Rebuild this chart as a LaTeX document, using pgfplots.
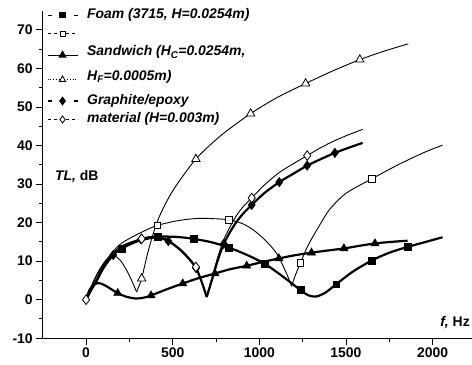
\documentclass[border=0pt]{standalone}
\usepackage{fontspec}
\setmainfont{Liberation Sans}
\usepackage{pgfplots}
\pgfplotsset{compat=1.18}
\usetikzlibrary{calc}

\begin{document}
\begin{tikzpicture}
\begin{axis}[name=ax,
 scale only axis, width=429.4bp, height=327.6bp,
 xmin=-250, xmax=2227, ymin=-10, ymax=75,
 axis x line=bottom, axis y line=left,
 axis line style={-, line width=1.2bp},
 xtick={0,500,1000,1500,2000}, ytick={-10,0,10,20,30,40,50,60,70},
 minor x tick num=1, minor y tick num=1,
 tick align=outside,
 major tick length=6.5bp, minor tick length=3.5bp,
 every tick/.style={black, line width=1bp},
 tick label style={font=\fontsize{14}{16}\selectfont\bfseries},
 /pgf/number format/assume math mode=true,
 /pgf/number format/1000 sep={},
 legend image code/.code={\draw[mark repeat=2,mark phase=2,#1] plot coordinates {(0bp,0bp) (15bp,0bp) (30bp,0bp)};},
 legend style={at={(axis description cs:0,1)}, anchor=north west, xshift=4bp, yshift=4bp,
   draw=none, fill=none, font=\fontsize{14}{16}\selectfont\bfseries\itshape,
   row sep=1.5bp, column sep=7.5bp, inner sep=0pt,
   nodes={inner sep=1.5bp, text height=10.5bp, text depth=3.5bp, anchor=west}},
 legend cell align=left,
]
% legend images
\addlegendimage{black, line width=1.3bp, dash pattern=on 4bp off 22bp, mark=square*, mark size=2.4bp, mark options={solid, fill=black}}
\addlegendentry{Foam (3715, H=0.0254m)}
\addlegendimage{black, line width=0.8bp, dash pattern=on 3.3bp off 2.7bp, mark=square*, mark size=2.4bp, mark options={solid, fill=white}}
\addlegendentry{}
\addlegendimage{black, line width=1.3bp, mark=triangle*, mark size=3.6bp, mark options={solid, fill=black}}
\addlegendentry[text depth=9.3bp]{Sandwich (H\textsubscript{C}=0.0254m,}
\addlegendimage{black, line width=0.8bp, dotted, mark=triangle*, mark size=3.6bp, mark options={solid, fill=white}}
\addlegendentry[text depth=9.3bp]{H\textsubscript{F}=0.0005m)}
\addlegendimage{black, line width=1.3bp, dash pattern=on 4bp off 22bp, mark=diamond*, mark size=3.5bp, mark options={solid, fill=black}}
\addlegendentry{Graphite/epoxy}
\addlegendimage{black, line width=0.8bp, dash pattern=on 3.3bp off 2.7bp, mark=diamond*, mark size=3.5bp, mark options={solid, fill=white}}
\addlegendentry{material (H=0.003m)}

% thin curves
\addplot[forget plot, black, line width=0.9bp, smooth, no marks] coordinates {(0,0)(30,3.2)(62,6.2)(100,9.2)(157,12.6)(210,14.8)(311,17.3)(413,19.3)(542,20.6)(650,21.1)(750,21.0)(825,20.7)(900,19.8)(965,18.1)(1030,15.6)(1100,12.0)(1157,6.8)(1186,3.5)};
\addplot[forget plot, black, line width=0.9bp, smooth, no marks] coordinates {(1186,3.5)(1210,6.6)(1237,9.5)(1280,14.0)(1350,19.5)(1407,23.5)(1500,27.6)(1650,31.4)(1800,35)(1950,38.2)(2057,40.1)};
\addplot[forget plot, black, line width=0.9bp, smooth, no marks] coordinates {(0,0)(40,4.5)(80,8)(120,10.5)(157,11.5)(196,10.3)(230,8)(254,5.9)(275,3.8)(292,2.0)};
\addplot[forget plot, black, line width=0.9bp, smooth, no marks] coordinates {(292,2.0)(305,3.5)(321,5.5)(360,12.8)(407,19.8)(455,24.6)(504,28.5)(570,32.8)(634,36.5)(700,39.5)(800,43.4)(950,48.3)(1100,52.4)(1267,56.1)(1420,59.3)(1580,62.3)(1720,64.5)(1859,66.4)};
\addplot[forget plot, black, line width=0.9bp, smooth, no marks] coordinates {(0,0)(30,2.9)(62,5.4)(100,8.8)(157,12.2)(220,14.3)(321,15.8)(400,16.5)(475,15.5)(542,13.2)(600,10.6)(634,8.5)(660,5.6)(680,3.0)(696,0.7)};
\addplot[forget plot, black, line width=0.9bp, smooth, no marks] coordinates {(696,0.7)(712,3.3)(734,6.8)(760,11.0)(795,15.6)(850,20.5)(900,23.8)(956,26.4)(1030,29.8)(1115,33.0)(1200,35.4)(1276,37.4)(1360,39.6)(1436,41.3)(1520,42.9)(1596,44.2)};
% thick curves
\addplot[forget plot, black, line width=2.2bp, smooth, no marks] coordinates {(0,0)(30,2.6)(62,5)(100,8.2)(157,11.7)(206,13.3)(300,15.2)(412,16.3)(520,16.3)(619,15.8)(725,14.9)(825,13.5)(930,11.6)(1031,9.3)(1130,6.2)(1237,2.5)(1280,1.2)(1325,0.8)(1380,1.8)(1443,4.0)(1540,7.3)(1650,10.2)(1750,12.2)(1856,13.7)(1960,15.0)(2057,16.2)};
\addplot[forget plot, black, line width=2.2bp, smooth, no marks] coordinates {(0,0)(20,2.5)(45,3.9)(75,4.3)(110,3.7)(150,2.6)(183,1.7)(230,0.8)(290,0.3)(340,0.6)(375,1.1)(460,2.6)(558,4.2)(650,5.6)(744,6.8)(830,7.9)(927,8.8)(1020,9.8)(1113,10.7)(1200,11.5)(1301,12.2)(1400,12.8)(1488,13.3)(1580,14.0)(1667,14.6)(1760,15.0)(1855,15.3)};
\addplot[forget plot, black, line width=2.2bp, smooth, no marks] coordinates {(0,0)(30,2.6)(62,5)(100,8.3)(157,11.6)(220,13.9)(317,15.7)(400,16.3)(475,15.2)(542,13.0)(600,10.3)(635,8.2)(660,5.5)(680,3.0)(696,0.7)};
\addplot[forget plot, black, line width=2.2bp, smooth, no marks] coordinates {(696,0.7)(712,3.0)(734,6.3)(760,10.2)(795,14.5)(850,19.0)(900,22.0)(956,24.6)(1030,27.7)(1115,30.5)(1200,32.8)(1276,34.8)(1360,36.6)(1436,38.1)(1520,39.5)(1596,40.7)};
% markers
\addplot[forget plot, only marks, mark=square*, mark size=3.4bp, mark options={draw=black, fill=black}] coordinates {(206,13.3)(412,16.3)(619,15.8)(825,13.5)(1031,9.3)(1237,2.5)(1443,4.0)(1650,10.2)(1856,13.7)};
\addplot[forget plot, only marks, mark=diamond*, mark size=4.8bp, mark options={draw=black, fill=black}] coordinates {(157,11.6)(317,15.7)(475,15.2)(635,8.2)(795,14.5)(956,24.6)(1115,30.5)(1276,34.8)(1436,38.1)};
\addplot[forget plot, only marks, mark=triangle*, mark size=4.8bp, mark options={draw=black, fill=black}] coordinates {(183,1.7)(375,1.1)(558,4.2)(744,6.8)(927,8.8)(1113,10.7)(1301,12.2)(1488,13.3)(1667,14.6)};
\addplot[forget plot, only marks, mark=square*, mark size=3.2bp, mark options={draw=black, fill=white, line width=0.8bp}] coordinates {(413,19.3)(825,20.7)(1237,9.5)(1650,31.4)};
\addplot[forget plot, only marks, mark=triangle*, mark size=4.8bp, mark options={draw=black, fill=white, line width=0.8bp}] coordinates {(321,5.5)(634,36.5)(950,48.3)(1267,56.1)(1580,62.3)};
\addplot[forget plot, only marks, mark=diamond*, mark size=4.8bp, mark options={draw=black, fill=white, line width=0.8bp}] coordinates {(0,0)(321,15.8)(634,8.5)(956,26.4)(1276,37.4)};

\node[anchor=west, font=\fontsize{14}{16}\selectfont\bfseries, inner sep=0pt] at (axis cs:-180,32) {\textit{TL,} dB};
\node[anchor=east, font=\fontsize{14}{16}\selectfont\bfseries, inner sep=0pt] at (axis cs:2215,-5.9) {\textit{f,} Hz};
\end{axis}
\pgfresetboundingbox
\path ($(ax.south west)+(-42.7bp,-26.7bp)$) rectangle ($(ax.north east)+(0bp,10.7bp)$);
\end{tikzpicture}
\end{document}
